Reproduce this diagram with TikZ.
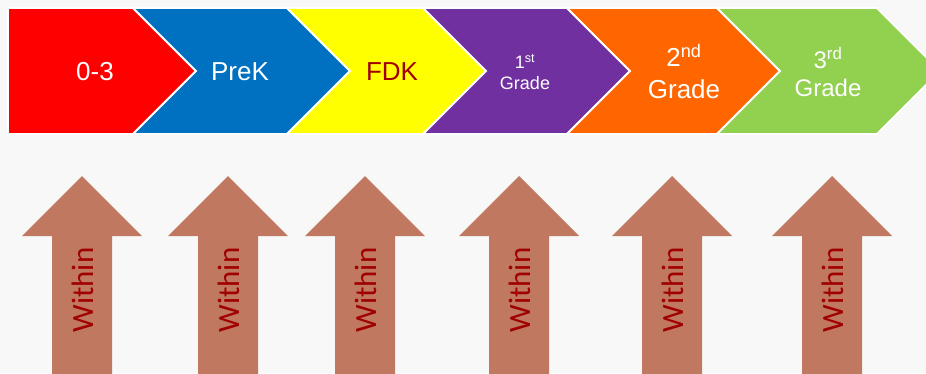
\documentclass[tikz,border=0pt]{standalone}
\usepackage{fontspec}
\setmainfont{Liberation Sans}
\newfontfamily\withinfont{Carlito}
\usetikzlibrary{positioning}

\definecolor{bgGray}{RGB}{248,248,248}
\definecolor{stageRed}{RGB}{255,0,0}
\definecolor{stageBlue}{RGB}{0,112,192}
\definecolor{stageYellow}{RGB}{255,255,0}
\definecolor{stagePurple}{RGB}{112,48,160}
\definecolor{stageOrange}{RGB}{255,102,0}
\definecolor{stageGreen}{RGB}{146,208,80}
\definecolor{arrowBrown}{RGB}{192,121,96}
\definecolor{textMaroon}{RGB}{160,0,0}

\tikzset{
  stage/.style={draw=white, line width=1.8pt, line join=miter},
  stagetext/.style={text=white, align=center, inner sep=0pt},
  uparrow/.style={fill=arrowBrown},
  withintext/.style={text=textMaroon, rotate=90, inner sep=0pt,
    font=\withinfont\fontsize{31}{31}\selectfont}
}

\begin{document}
\begin{tikzpicture}[x=1pt,y=-1pt]
  \useasboundingbox (0,0) rectangle (926,373);
  \fill[bgGray] (0,0) rectangle (926,373);
  \clip (0,0) rectangle (926,373);
  % stages
  \filldraw[stage, fill=stageRed] (8,8) -- (133,8) -- (196,71) -- (133,134) -- (8,134) -- cycle;
  \foreach \l/\r/\c in {133/287/stageBlue, 287/423/stageYellow, 423/567/stagePurple,
                        567/717/stageOrange, 717/877/stageGreen}
    \filldraw[stage, fill=\c] (\l,8) -- (\r,8) -- ({\r+63},71) -- (\r,134)
      -- (\l,134) -- ({\l+63},71) -- cycle;
  \node[stagetext, font=\fontsize{26}{31}\selectfont] (zeroThree) at (95,72) {0-3};
  \node[stagetext, font=\fontsize{26}{31}\selectfont] (preK) at (240,72) {PreK};
  \node[stagetext, text=textMaroon, font=\fontsize{26}{31}\selectfont] (fdk) at (392,72) {FDK};
  \node[stagetext, font=\fontsize{18}{21}\selectfont] (first) at (525,72) {1\textsuperscript{st}\\Grade};
  \node[stagetext, font=\fontsize{26}{32}\selectfont] (second) at (684,72) {2\textsuperscript{nd}\\Grade};
  \node[stagetext, font=\fontsize{24}{28}\selectfont] (third) at (828,72) {3\textsuperscript{rd}\\Grade};
  % arrows
  \foreach \x [count=\i] in {82,228,365,519,672,832} {
    \fill[uparrow] (\x,176) -- ({\x+60},236) -- ({\x+30},236) -- ({\x+30},380)
      -- ({\x-30},380) -- ({\x-30},236) -- ({\x-60},236) -- cycle;
    \node[withintext] (within\i) at ({\x+1},290) {Within};
  }
\end{tikzpicture}
\end{document}
